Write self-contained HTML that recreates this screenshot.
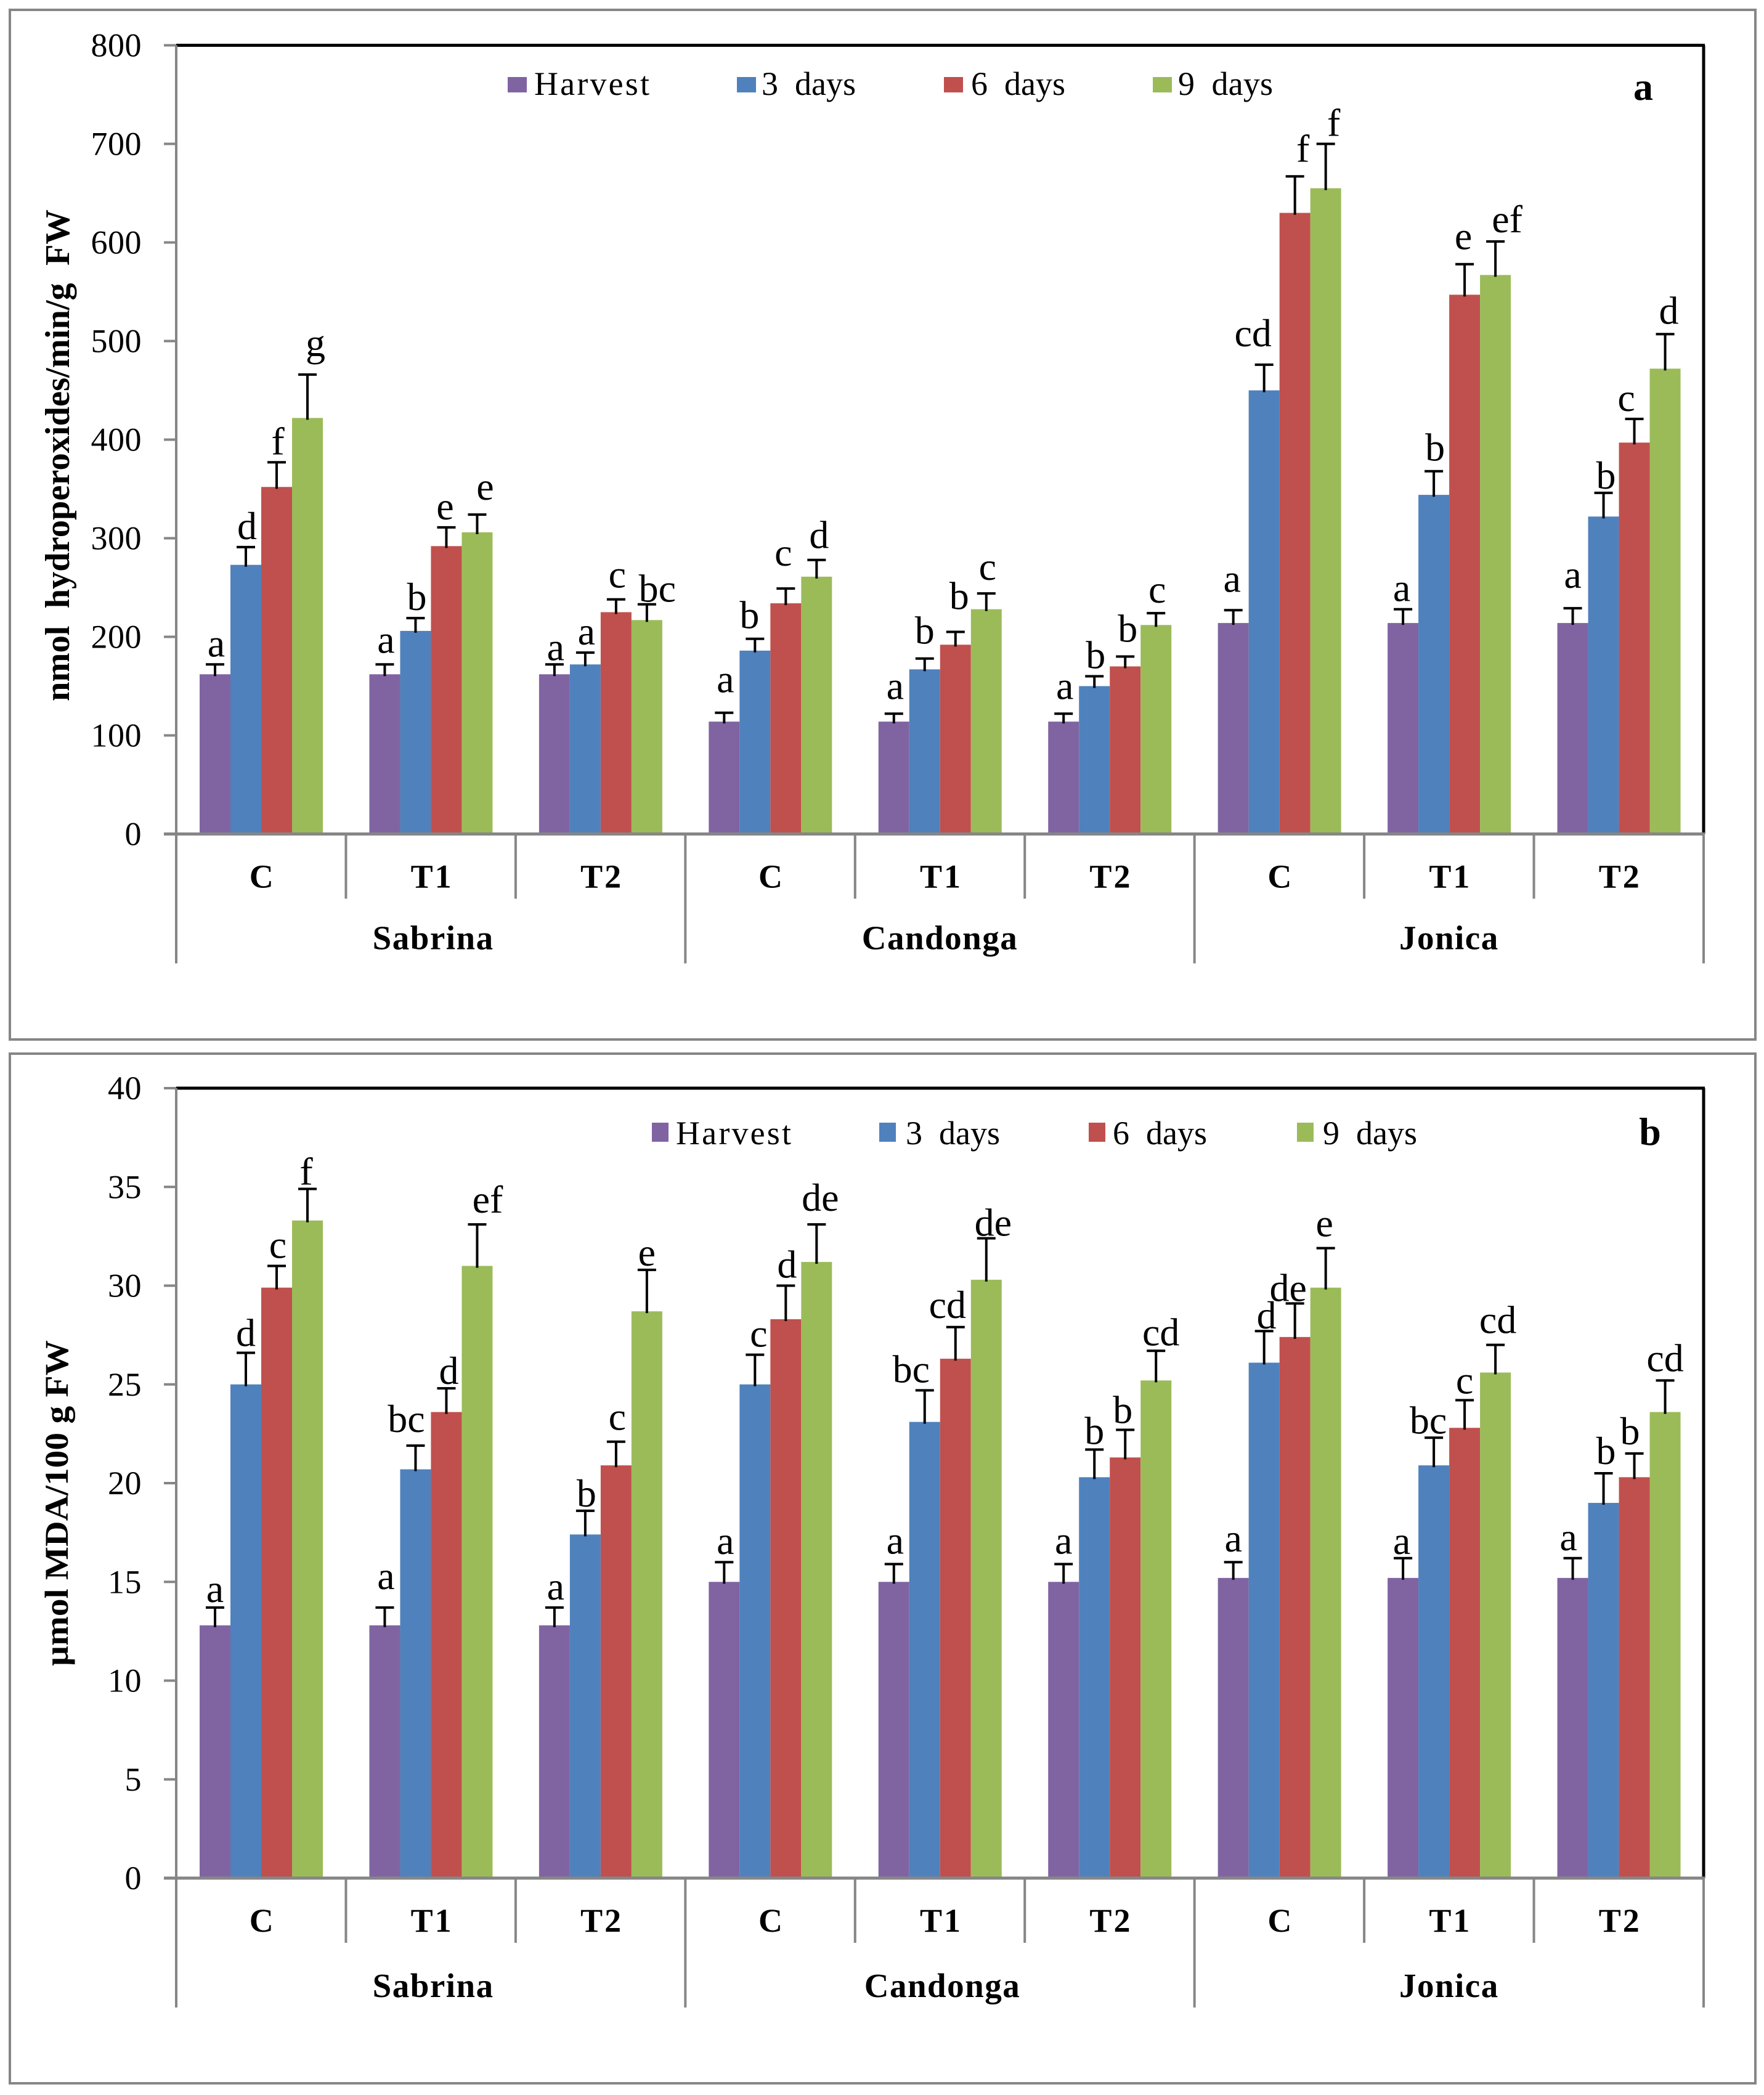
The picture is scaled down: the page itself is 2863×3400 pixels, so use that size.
<!DOCTYPE html>
<html lang="en">
<head>
<meta charset="utf-8">
<title>Hydroperoxide and MDA bar charts</title>
<style>
html,body{margin:0;padding:0;background:#fff;}
svg{display:block;}
text{font-family:"Liberation Serif",serif;fill:#000;}
</style>
</head>
<body>
<svg id="figure" xmlns="http://www.w3.org/2000/svg" width="2863" height="3400" viewBox="0 0 2863 3400">
  <rect x="0" y="0" width="2863" height="3400" fill="#fff"/>
  <rect x="16" y="16" width="2833" height="1671" fill="#fff" stroke="#868686" stroke-width="4"/>
  <rect x="16" y="1710" width="2833" height="1671" fill="#fff" stroke="#868686" stroke-width="4"/>
  <g id="panel-a"></g>
  <g id="panel-b"></g>

  <text transform="translate(112,1138) rotate(-90)" font-size="56" font-weight="bold" textLength="798" lengthAdjust="spacingAndGlyphs" xml:space="preserve">nmol  hydroperoxides/min/g  FW</text>
  <text transform="translate(110,2704) rotate(-90)" font-size="54" font-weight="bold" textLength="529" lengthAdjust="spacingAndGlyphs">µmol MDA/100 g FW</text>

  <g font-size="54">
    <rect x="824" y="125" width="31" height="25" fill="#8064A2"/>
    <text x="867" y="154" textLength="187">Harvest</text>
    <rect x="1196" y="125" width="31" height="25" fill="#4F81BD"/>
    <text x="1236" y="154" textLength="153" xml:space="preserve">3  days</text>
    <rect x="1532" y="125" width="31" height="25" fill="#C0504D"/>
    <text x="1576" y="154" textLength="153" xml:space="preserve">6  days</text>
    <rect x="1871" y="125" width="31" height="25" fill="#9BBB59"/>
    <text x="1912" y="154" textLength="154" xml:space="preserve">9  days</text>
  </g>
  <g font-size="54">
    <rect x="1058" y="1822" width="27" height="31" fill="#8064A2"/>
    <text x="1097" y="1857" textLength="187">Harvest</text>
    <rect x="1427" y="1822" width="27" height="31" fill="#4F81BD"/>
    <text x="1470" y="1857" textLength="153" xml:space="preserve">3  days</text>
    <rect x="1767" y="1822" width="27" height="31" fill="#C0504D"/>
    <text x="1806" y="1857" textLength="153" xml:space="preserve">6  days</text>
    <rect x="2105" y="1822" width="27" height="31" fill="#9BBB59"/>
    <text x="2147" y="1857" textLength="153" xml:space="preserve">9  days</text>
  </g>
  <text x="2667" y="162" font-size="64" font-weight="bold" text-anchor="middle">a</text>
  <text x="2678" y="1858" font-size="64" font-weight="bold" text-anchor="middle">b</text>
</svg>
<script>
// Shared categories
const treatments = ["C", "T1", "T2", "C", "T1", "T2", "C", "T1", "T2"];
const varieties = ["Sabrina", "Candonga", "Jonica"];
const seriesNames = ["harvest", "3-days", "6-days", "9-days"];

// Panel a values: nmol hydroperoxides/min/g FW
const ticksA = [0, 100, 200, 300, 400, 500, 600, 700, 800];
const harvestA = [162, 162, 162, 114, 114, 114, 214, 214, 214];
const days3A = [273, 206, 172, 186, 167, 150, 450, 344, 322];
const days6A = [352, 292, 225, 234, 192, 170, 630, 547, 397];
const days9A = [422, 306, 217, 261, 228, 212, 655, 567, 472];
const harvestErrA = [172, 172, 172, 123, 122, 122, 227, 228, 229];
const days3ErrA = [291, 219, 184, 198, 178, 160, 476, 368, 346];
const days6ErrA = [377, 311, 238, 249, 205, 180, 667, 578, 421];
const days9ErrA = [466, 324, 233, 278, 244, 224, 700, 601, 507];
const harvestLettersA = ["a", "a", "a", "a", "a", "a", "a", "a", "a"];
const days3LettersA = ["d", "b", "a", "b", "b", "b", "cd", "b", "b"];
const days6LettersA = ["f", "e", "c", "c", "b", "b", "f", "e", "c"];
const days9LettersA = ["g", "e", "bc", "d", "c", "c", "f", "ef", "d"];

// Panel b values: umol MDA/100 g FW
const ticksB = [0, 5, 10, 15, 20, 25, 30, 35, 40];
const harvestB = [12.8, 12.8, 12.8, 15, 15, 15, 15.2, 15.2, 15.2];
const days3B = [25, 20.7, 17.4, 25, 23.1, 20.3, 26.1, 20.9, 19];
const days6B = [29.9, 23.6, 20.9, 28.3, 26.3, 21.3, 27.4, 22.8, 20.3];
const days9B = [33.3, 31, 28.7, 31.2, 30.3, 25.2, 29.9, 25.6, 23.6];
const harvestErrB = [13.7, 13.7, 13.7, 16, 15.9, 15.9, 16, 16.2, 16.2];
const days3ErrB = [26.6, 21.9, 18.6, 26.5, 24.7, 21.7, 27.7, 22.3, 20.5];
const days6ErrB = [31, 24.8, 22.1, 30, 27.9, 22.7, 29.1, 24.2, 21.5];
const days9ErrB = [34.9, 33.1, 30.8, 33.1, 32.4, 26.7, 31.9, 27, 25.2];
const harvestLettersB = ["a", "a", "a", "a", "a", "a", "a", "a", "a"];
const days3LettersB = ["d", "bc", "b", "c", "bc", "b", "d", "bc", "b"];
const days6LettersB = ["c", "d", "c", "d", "cd", "b", "de", "c", "b"];
const days9LettersB = ["f", "ef", "e", "de", "de", "cd", "e", "cd", "cd"];

// Layout only: hand-placed letter offsets from the default spot above each cap,
// keyed "series-group". Letters still follow the data.
const letterOffsetsA = {
  "3-0":[11,-17], "0-1":[0,-6], "2-1":[-4,0], "3-1":[11,-11],
  "0-2":[0,6], "2-2":[0,-6], "3-2":[15,9],
  "0-3":[0,-20], "1-3":[-11,-4], "2-3":[-6,-24], "3-3":[2,-6],
  "0-4":[0,-11], "1-4":[-2,-11], "2-4":[4,-24], "3-4":[0,-9],
  "0-5":[0,-11], "2-5":[2,-11], "3-5":[0,-4],
  "0-6":[-4,-17], "1-6":[-20,-17], "2-6":[11,-11], "3-6":[11,0],
  "0-7":[-4,0], "1-7":[0,-4], "2-7":[-4,-11], "3-7":[17,-2],
  "0-8":[-2,-20], "1-8":[2,6], "2-8":[-15,0], "3-8":[4,-4]
};
const letterOffsetsB = {
  "0-0":[-2,4], "1-0":[-2,2], "3-0":[-4,6],
  "0-1":[0,-17], "1-1":[-17,-9], "2-1":[2,6], "3-1":[15,-6],
  "1-2":[0,6], "2-2":[0,-6], "3-2":[-2,6],
  "1-3":[4,0], "3-3":[4,-9],
  "0-4":[0,-4], "1-4":[-24,0], "2-4":[-15,-2], "3-4":[9,9],
  "0-5":[-2,-4], "1-5":[-2,4], "2-5":[-6,2], "3-5":[6,4],
  "0-6":[-2,-4], "1-6":[2,9], "2-6":[-13,9], "3-6":[-4,-6],
  "0-7":[-4,6], "1-7":[-11,6], "2-7":[-2,2], "3-7":[2,-6],
  "0-8":[-9,0], "1-8":[2,-2], "2-8":[-9,-2], "3-8":[-2,-2]
};

const colors = ["#8064A2", "#4F81BD", "#C0504D", "#9BBB59"];
const SVGNS = "http://www.w3.org/2000/svg";

function mk(parent, tag, attrs, txt) {
  const el = document.createElementNS(SVGNS, tag);
  for (const k in attrs) el.setAttribute(k, attrs[k]);
  if (txt !== undefined) el.textContent = txt;
  parent.appendChild(el);
  return el;
}

function drawPanel(opts) {
  const g = document.getElementById(opts.id);
  const left = 286, right = 2765;
  const top = opts.top, base = opts.base;
  const maxV = opts.ticks[opts.ticks.length - 1];
  const yOf = v => base - (v / maxV) * (base - top);
  const groupW = (right - left) / treatments.length;
  const groupX = i => left + i * groupW;
  const barW = 50;
  const barX = (i, j) => groupX(i) + 38 + j * barW;

  // plot outline: black top and right, gray left and bottom
  const topLine = mk(g, "line", {x1: left, y1: top, x2: right + 2, y2: top, stroke: "#000", "stroke-width": 5});
  
  
  const rightLine = mk(g, "line", {x1: right, y1: top, x2: right, y2: base, stroke: "#000", "stroke-width": 5});
  
  

  // bars and error bars
  opts.values.forEach((series, j) => {
    series.forEach((v, i) => {
      const x = barX(i, j), y = yOf(v);
      const bar = mk(g, "rect", {x: x, y: y, width: barW, height: base - y, fill: colors[j]});
      
      
      const cx = x + barW / 2;
      const ey = yOf(opts.errors[j][i]);
      const stem = mk(g, "line", {x1: cx, y1: y + 3, x2: cx, y2: ey, stroke: "#000", "stroke-width": 4});
      
      
      const cap = mk(g, "line", {x1: cx - 15, y1: ey, x2: cx + 15, y2: ey, stroke: "#000", "stroke-width": 4});
      
      
    });
  });

  // significance letters drawn above all bars
  opts.letters.forEach((series, j) => {
    series.forEach((letter, i) => {
      const offset = opts.offsets[j + "-" + i] || [0, 0];
      const cx = barX(i, j) + barW / 2;
      const ey = yOf(opts.errors[j][i]);
      const label = mk(g, "text", {x: cx + 2 + offset[0], y: ey - 13 + offset[1], "font-size": 64, "text-anchor": "middle"}, letter);
      
      
    });
  });

  // axes
  const yAxis = mk(g, "line", {x1: left, y1: top, x2: left, y2: base + opts.longDrop, stroke: "#868686", "stroke-width": 4});
  
  
  const xAxis = mk(g, "line", {x1: left - 20, y1: base, x2: right + 2, y2: base, stroke: "#868686", "stroke-width": 5});
  
  

  opts.ticks.forEach(t => {
    const y = yOf(t);
    const mark = mk(g, "line", {x1: left - 20, y1: y, x2: left, y2: y, stroke: "#868686", "stroke-width": 4});
    
    
    const lab = mk(g, "text", {x: 230, y: y + 18, "font-size": 54, "text-anchor": "end", "letter-spacing": 0.5}, String(t));
    
    
  });

  // category separators and labels
  for (let i = 1; i <= treatments.length; i++) {
    const long = i % 3 === 0;
    const sep = mk(g, "line", {x1: groupX(i), y1: base, x2: groupX(i), y2: base + (long ? opts.longDrop : opts.shortDrop), stroke: "#868686", "stroke-width": 4});
    
    
  }
  treatments.forEach((t, i) => {
    const lab = mk(g, "text", {x: groupX(i) + groupW / 2 + 2, y: base + 87, "font-size": 54, "font-weight": "bold", "text-anchor": "middle", "letter-spacing": 3}, t);
    
    
  });
  varieties.forEach((v, i) => {
    const lab = mk(g, "text", {x: groupX(i * 3) + groupW * 1.5 + opts.varietyShift[i], y: base + opts.varietyDrop, "font-size": 55, "font-weight": "bold", "text-anchor": "middle", "letter-spacing": 1.5}, v);
    
    
  });
}

drawPanel({
  id: "panel-a", top: 73.5, base: 1353.5, ticks: ticksA,
  values: [harvestA, days3A, days6A, days9A],
  errors: [harvestErrA, days3ErrA, days6ErrA, days9ErrA],
  letters: [harvestLettersA, days3LettersA, days6LettersA, days9LettersA],
  offsets: letterOffsetsA,
  shortDrop: 105, longDrop: 210, varietyDrop: 187, varietyShift: [4, 0, 0]
});
drawPanel({
  id: "panel-b", top: 1766, base: 3048, ticks: ticksB,
  values: [harvestB, days3B, days6B, days9B],
  errors: [harvestErrB, days3ErrB, days6ErrB, days9ErrB],
  letters: [harvestLettersB, days3LettersB, days6LettersB, days9LettersB],
  offsets: letterOffsetsB,
  shortDrop: 105, longDrop: 210, varietyDrop: 193, varietyShift: [4, 4, 0]
});
</script>
</body>
</html>
